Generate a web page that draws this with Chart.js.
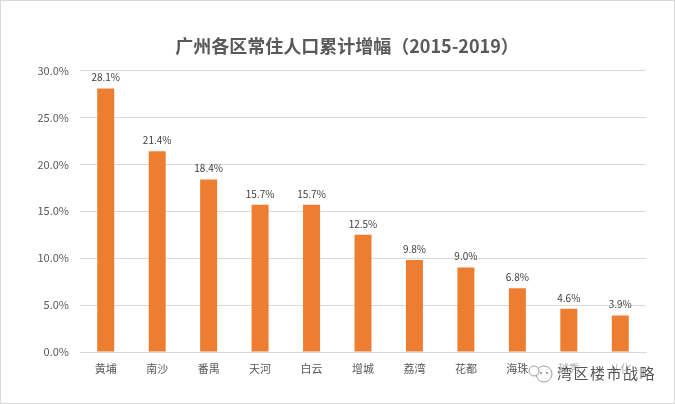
<!DOCTYPE html>
<html>
<head>
<meta charset="utf-8">
<style>
html,body{margin:0;padding:0;background:#fff;}
#box{position:relative;width:675px;height:404px;overflow:hidden;}
#mark{position:absolute;left:557px;top:363px;font:15px "Noto Sans CJK SC",sans-serif;line-height:20px;color:#555;letter-spacing:1.5px;background:rgba(255,255,255,0.55);white-space:nowrap;}
#logo{position:absolute;left:527px;top:362px;}
</style>
<script src="https://cdn.jsdelivr.net/npm/chart.js@4"></script>
</head>
<body>
<div id="box">
<canvas id="myChart" width="675" height="404"></canvas>
<svg id="logo" width="28" height="24" fill="#fff" stroke="#888" stroke-width="0.8">
	<circle cx="17" cy="12" r="8"/>
	<circle cx="7" cy="9" r="5"/>
	<circle cx="14" cy="11" r="0.7" fill="#888"/>
	<circle cx="20" cy="11" r="0.7" fill="#888"/>
</svg>
<div id="mark">湾区楼市战略</div>
</div>
<script>
var categories = ['黄埔','南沙','番禺','天河','白云','增城','荔湾','花都','海珠','越秀','从化'];
var growth = [28.1,21.4,18.4,15.7,15.7,12.5,9.8,9.0,6.8,4.6,3.9];
var yTicks = [0,5,10,15,20,25,30];
var font = '"Noto Sans CJK SC","Liberation Sans",sans-serif';

// data labels, the chart is drawn without the datalabels plugin
var barLabels = {
	id:'barLabels',
	afterDatasetsDraw:function(chart){
		var ctx = chart.ctx;
		var meta = chart.getDatasetMeta(0);
		ctx.save();
		ctx.font = '10px ' + font;
		ctx.fillStyle = '#404040';
		ctx.textAlign = 'center';
		ctx.textBaseline = 'bottom';
		meta.data.forEach(function(bar,i){
			ctx.fillText(growth[i].toFixed(1) + '%',bar.x,bar.y - 6);
		});
		ctx.restore();
	}
};

var chartFrame = {
	id:'chartFrame',
	// title sits a little right of the plot centre in the original
	afterLayout:function(chart){
		chart.titleBlock.left += 10;
	},
	beforeDraw:function(chart){
		var ctx = chart.ctx;
		ctx.save();
		ctx.fillStyle = '#fff';
		ctx.fillRect(0,0,chart.width,chart.height);
		ctx.strokeStyle = '#d9d9d9';
		ctx.strokeRect(0.5,0.5,chart.width - 1,chart.height - 1);
		ctx.restore();
	}
};

new Chart(document.getElementById('myChart'),{
	type:'bar',
	data:{
		labels:categories,
		datasets:[{data:growth,backgroundColor:'#ed7d31',categoryPercentage:1,barPercentage:0.33}]
	},
	options:{
		responsive:false,
		animation:false,
		layout:{padding:{left:38,right:29,top:0,bottom:0}},
		plugins:{
			legend:{display:false},
			tooltip:{enabled:false},
			title:{
				display:true,
				text:'广州各区常住人口累计增幅（2015-2019）',
				color:'#595959',
				font:{family:font,size:18,weight:'bold'},
				padding:{top:35,bottom:14}
			}
		},
		scales:{
			x:{
				grid:{display:false},
				border:{color:'#d9d9d9'},
				afterFit:function(axis){axis.height = 52;},
				ticks:{color:'#595959',font:{family:font,size:11},maxRotation:0,autoSkip:false,padding:2}
			},
			y:{
				min:0,
				max:30,
				afterFit:function(axis){axis.width = 42;},
				afterBuildTicks:function(axis){
					axis.ticks = yTicks.map(function(v){return {value:v};});
				},
				grid:{color:'#d9d9d9',drawTicks:false},
				border:{display:false},
				ticks:{
					color:'#595959',
					padding:11,
					font:{family:font,size:11},
					callback:function(v){return v.toFixed(1) + '%';}
				}
			}
		}
	},
	plugins:[chartFrame,barLabels]
});
</script>
</body>
</html>
